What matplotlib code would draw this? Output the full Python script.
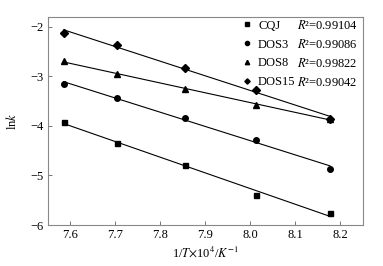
import numpy as np
import matplotlib
matplotlib.use("Agg")
import matplotlib.pyplot as plt
from matplotlib.lines import Line2D

plt.rcParams['font.family'] = ['Liberation Serif', 'DejaVu Serif']
plt.rcParams['mathtext.fontset'] = 'stix'
plt.rcParams['font.size'] = 9

# 1/T x 10^4 (K^-1)
x = [7.587, 7.704, 7.855, 8.013, 8.177]

cqj = [-3.92, -4.34, -4.79, -5.40, -5.76]
dos3 = [-3.16, -3.43, -3.83, -4.28, -4.87]
dos8 = [-2.69, -2.95, -3.25, -3.57, -3.86]
dos15 = [-2.125, -2.36, -2.82, -3.28, -3.86]

names = ['CQJ', 'DOS3', 'DOS8', 'DOS15']
r2 = ['0.99104', '0.99086', '0.99822', '0.99042']
markers = ['s', 'o', '^', 'D']
msizes = [3.6, 4.0, 4.2, 3.6]

fig = plt.figure(figsize=(3.83, 2.66), dpi=100)
ax = fig.add_axes([0.1253, 0.1541, 0.8225, 0.7819])

xs = np.array(x)
for y, m, ms in zip([cqj, dos3, dos8, dos15], markers, msizes):
    y = np.array(y)
    k, b = np.polyfit(xs, y, 1)
    ax.plot(xs, k * xs + b, color='black', lw=0.8)
    ax.plot(xs, y, ls='none', marker=m, ms=ms, color='black')

ax.set_xlim(7.552, 8.25)
ax.set_ylim(-6, -1.8)
ax.set_xticks([7.6, 7.7, 7.8, 7.9, 8.0, 8.1, 8.2])
ax.set_xticklabels(['7.6', '7.7', '7.8', '7.9', '8.0', '8.1', '8.2'])
ax.set_yticks([-6, -5, -4, -3, -2])
ax.set_yticklabels(['\u22126', '\u22125', '\u22124', '\u22123', '\u22122'])
ax.tick_params(direction='in', length=3, width=0.7, color='#777777',
               labelsize=9, pad=3)
for sp in ax.spines.values():
    sp.set_color('#888888')
    sp.set_linewidth(0.8)

ax.set_xlabel(r'1/$T$$\times$10$^4$/$K^{-1}$', fontsize=9, labelpad=3)
ax.set_ylabel(r'ln$k$', fontsize=9, labelpad=8)

handles = [Line2D([], [], ls='none', marker=m, ms=ms * 0.75, color='black')
           for m, ms in zip(markers, msizes)]
leg = ax.legend(handles, names, loc='upper left',
                bbox_to_anchor=((238 - 48) / 315, 1.005),
                frameon=False, fontsize=9, handlelength=0.8, handletextpad=0.5,
                labelspacing=0.55, borderaxespad=0.0, borderpad=0.3)

# R^2 values in a second column, aligned with the legend rows
fig.canvas.draw()
inv = ax.transAxes.inverted()
x_r2 = (297 - 48) / (363 - 48)
for t, v in zip(leg.get_texts(), r2):
    bb = t.get_window_extent()
    yc = inv.transform(((bb.x0 + bb.x1) / 2, (bb.y0 + bb.y1) / 2))[1]
    ax.text(x_r2, yc, '$R$\u00b2=' + v, transform=ax.transAxes,
            fontsize=9, va='center', ha='left')

fig.savefig('out.png', dpi=100)
